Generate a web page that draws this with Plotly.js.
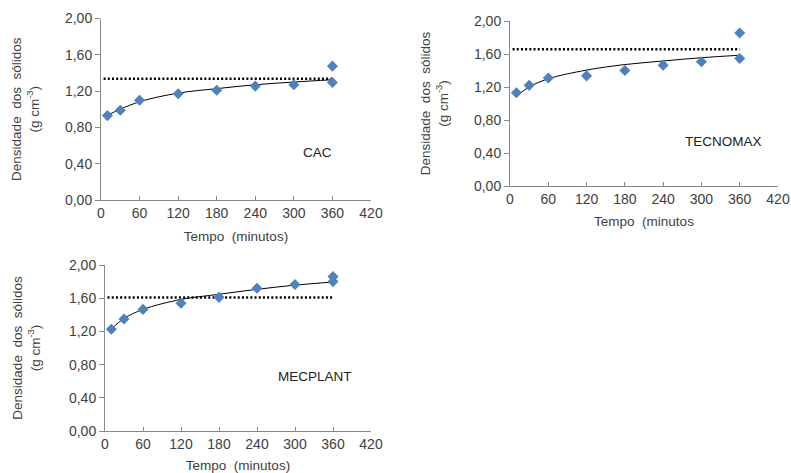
<!DOCTYPE html>
<html>
<head>
<meta charset="utf-8">
<script src="https://cdn.plot.ly/plotly-3.0.1.min.js"></script>
<style>html,body{margin:0;padding:0;background:#fff;}#chart{width:791px;height:473px;}</style>
</head>
<body>
<div id="chart"></div>
<script>
// Time (minutes)
const tempo = [10, 30, 60, 120, 180, 240, 300, 360, 360];
// Observed solid density (g cm-3)
const cacVals = [0.93, 0.99, 1.10, 1.17, 1.21, 1.255, 1.27, 1.295, 1.475];
const tecVals = [1.13, 1.22, 1.31, 1.335, 1.40, 1.465, 1.505, 1.545, 1.855];
const mecVals = [1.225, 1.35, 1.465, 1.54, 1.61, 1.72, 1.765, 1.80, 1.86];
// Fitted curve
const fitX = [10, 30, 60, 120, 180, 240, 300, 360];
const cacFit = [0.935, 1.00, 1.083, 1.178, 1.227, 1.27, 1.30, 1.325];
const tecFit = [1.09, 1.20, 1.30, 1.405, 1.472, 1.515, 1.555, 1.585];
const mecFit = [1.23, 1.355, 1.465, 1.585, 1.647, 1.707, 1.757, 1.795];
// Reference (dotted) levels
const refX = [4, 360];
const cacRef = 1.336;
const tecRef = 1.658;
const mecRef = 1.607;
// Labels
const panelNames = ['CAC', 'TECNOMAX', 'MECPLANT'];
const xTitles = ['Tempo  (minutos)', 'Tempo  (minutos', 'Tempo  (minutos)'];
const yTitle = 'Densidade  dos  sólidos<br>(g cm<sup>-3</sup>)';
const xTicks = [0, 60, 120, 180, 240, 300, 360, 420];
const yTicks = [0, 0.4, 0.8, 1.2, 1.6, 2.0];

const blue = '#4F81BD';
const panels = [
  {vals: cacVals, fit: cacFit, ref: cacRef, xa: 'x', ya: 'y'},
  {vals: tecVals, fit: tecFit, ref: tecRef, xa: 'x2', ya: 'y2'},
  {vals: mecVals, fit: mecFit, ref: mecRef, xa: 'x3', ya: 'y3'}
];
const traces = [];
panels.forEach(p => {
  traces.push({x: fitX, y: p.fit, xaxis: p.xa, yaxis: p.ya, mode: 'lines',
    line: {color: '#000', width: 1, shape: 'spline'}, hoverinfo: 'skip'});
  traces.push({x: refX, y: [p.ref, p.ref], xaxis: p.xa, yaxis: p.ya, mode: 'lines',
    line: {color: '#000', width: 2.5, dash: '2px,2.2px'}});
  traces.push({x: tempo, y: p.vals, xaxis: p.xa, yaxis: p.ya, mode: 'markers',
    marker: {symbol: 'diamond', size: 8.5, color: blue}});
});

const fam = 'Liberation Sans, Arial, sans-serif';
const tickFont = {family: fam, size: 14, color: '#404040'};
const titleFont = {family: fam, size: 13.5, color: '#404040'};
function xa(dom, anchor, title, standoff) {
  return {domain: dom, anchor: anchor, range: [0, 420], tickvals: xTicks, ticktext: xTicks.map(String),
    showgrid: false, zeroline: false, showline: true, linecolor: '#8a8a8a', linewidth: 1,
    ticks: 'inside', ticklen: 4, tickcolor: '#8a8a8a', tickfont: tickFont,
    title: {text: title, font: titleFont, standoff: standoff}, fixedrange: true};
}
function ya(dom, anchor, standoff) {
  return {domain: dom, anchor: anchor, range: [0, 2], tickvals: yTicks, tickformat: '.2f',
    showgrid: false, zeroline: false, showline: true, linecolor: '#8a8a8a', linewidth: 1,
    ticks: 'outside', ticklen: 5, tickcolor: '#8a8a8a', tickfont: tickFont,
    title: {text: yTitle, font: titleFont, standoff: standoff}, fixedrange: true};
}
const layout = {
  width: 791, height: 473, showlegend: false, separators: ', ',
  margin: {l: 0, r: 0, t: 0, b: 0}, paper_bgcolor: '#fff', plot_bgcolor: '#fff',
  font: titleFont,
  xaxis: xa([101/791, 371/791], 'y', xTitles[0], 11),
  yaxis: ya([1-200/473, 1-18.5/473], 'x', 22),
  xaxis2: xa([510/791, 778/791], 'y2', xTitles[1], 10),
  yaxis2: ya([1-186/473, 1-21/473], 'x2', 22),
  xaxis3: xa([105/791, 371/791], 'y3', xTitles[2], 9),
  yaxis3: ya([1-431/473, 1-265/473], 'x3', 25),
  annotations: [
    {text: panelNames[0], xref: 'x', yref: 'y', x: 336, y: 0.52, showarrow: false, font: {family: fam, size: 13.5, color: '#222'}},
    {text: panelNames[1], xref: 'x2', yref: 'y2', x: 334, y: 0.54, showarrow: false, font: {family: fam, size: 13.5, color: '#222'}},
    {text: panelNames[2], xref: 'x3', yref: 'y3', x: 332, y: 0.655, showarrow: false, font: {family: fam, size: 13.5, color: '#222'}}
  ]
};
Plotly.newPlot('chart', traces, layout, {displayModeBar: false, staticPlot: true});
</script>
</body>
</html>
